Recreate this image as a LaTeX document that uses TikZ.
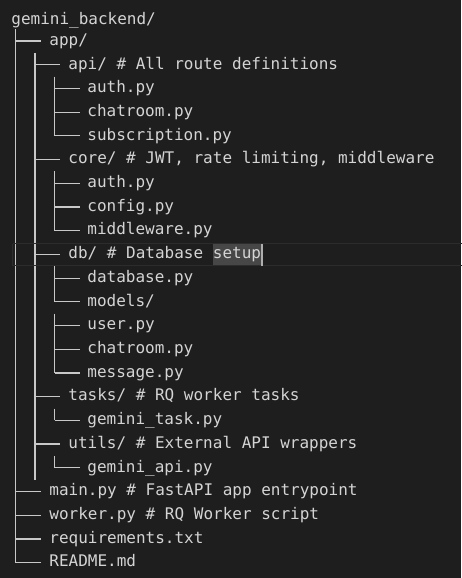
\documentclass[tikz,border=0pt]{standalone}
\usepackage{fontspec}
\setmonofont{DejaVu Sans Mono}
\definecolor{bgc}{HTML}{1E1E1E}
\definecolor{fgc}{HTML}{D4D4D4}
\definecolor{linec}{HTML}{C8C8C8}
\definecolor{selc}{HTML}{474747}
\definecolor{curlc}{HTML}{2C2C2C}
\definecolor{cursc}{HTML}{AEAFAD}
\tikzset{
  txt/.style={font=\ttfamily\fontsize{16}{16}\selectfont, text=fgc, inner sep=0pt, anchor=base west},
  tree/.style={draw=linec, line width=1.2pt},
}
% row i: baseline 45.3+23.71*(i-1); branch line at 41+23.71*(i-1)
\newcommand{\entry}[4]{\node[txt] (#3) at ({31+19*#2-0.8},{45.3+23.71*(#1-1)}) {#4};}
\newcommand{\hbranch}[2]{\draw[tree] ({15.5+19.5*(#2-1)},{41+23.71*(#1-1)}) -- ++(25,0);}
\newcommand{\vrunmid}[3]{\draw[tree] ({15.5+19.5*(#1-1)},{41+23.71*(#2-1)-11.86}) -- ({15.5+19.5*(#1-1)},{41+23.71*(#3-1)});}
\newcommand{\vrunfull}[3]{\draw[tree] ({15.5+19.5*(#1-1)},{41+23.71*(#2-1)-11.86}) -- ({15.5+19.5*(#1-1)},{41+23.71*(#3-1)+11.86});}
\begin{document}
\begin{tikzpicture}[x=1pt,y=-1pt]
\fill[bgc] (0,0) rectangle (461,578);
\useasboundingbox (0,0) rectangle (461,578);
% selection of "setup"
\fill[selc] (213,243.5) rectangle (261,265.5);
% tree lines
\vrunmid{1}{1}{23}
\vrunfull{2}{2}{19}
\vrunmid{3}{3}{5}
\vrunmid{3}{7}{9}
\vrunmid{3}{11}{12}
\vrunmid{3}{13}{15}
\vrunmid{3}{17}{17}
\vrunmid{3}{19}{19}
\foreach \r in {1,20,21,22,23} {\hbranch{\r}{1}}
\foreach \r in {2,6,10,16,18} {\hbranch{\r}{2}}
\foreach \r in {3,4,5,7,8,9,11,12,13,14,15,17,19} {\hbranch{\r}{3}}
% current line border
\draw[curlc, line width=1.6pt] (12.5,243.5) -- (470,243.5);
\draw[curlc, line width=1.6pt] (12.5,265.5) -- (470,265.5);
\draw[curlc, line width=1.6pt] (12.5,243.5) -- (12.5,265.5);
% texts
\node[txt] (root) at (11.2,24.5) {gemini\_backend/};
\entry{1}{1}{app}{app/}
\entry{2}{2}{api}{api/ \# All route definitions}
\entry{3}{3}{apiauth}{auth.py}
\entry{4}{3}{apichat}{chatroom.py}
\entry{5}{3}{apisub}{subscription.py}
\entry{6}{2}{core}{core/ \# JWT, rate limiting, middleware}
\entry{7}{3}{coreauth}{auth.py}
\entry{8}{3}{coreconf}{config.py}
\entry{9}{3}{coremid}{middleware.py}
\entry{10}{2}{db}{db/ \# Database setup}
\entry{11}{3}{dbdb}{database.py}
\entry{12}{3}{dbmodels}{models/}
\entry{13}{3}{dbuser}{user.py}
\entry{14}{3}{dbchat}{chatroom.py}
\entry{15}{3}{dbmsg}{message.py}
\entry{16}{2}{tasks}{tasks/ \# RQ worker tasks}
\entry{17}{3}{gtask}{gemini\_task.py}
\entry{18}{2}{utils}{utils/ \# External API wrappers}
\entry{19}{3}{gapi}{gemini\_api.py}
\entry{20}{1}{main}{main.py \# FastAPI app entrypoint}
\entry{21}{1}{worker}{worker.py \# RQ Worker script}
\entry{22}{1}{req}{requirements.txt}
\entry{23}{1}{readme}{README.md}
% cursor
\fill[cursc] (261,243.5) rectangle (263,265.5);
\end{tikzpicture}
\end{document}
